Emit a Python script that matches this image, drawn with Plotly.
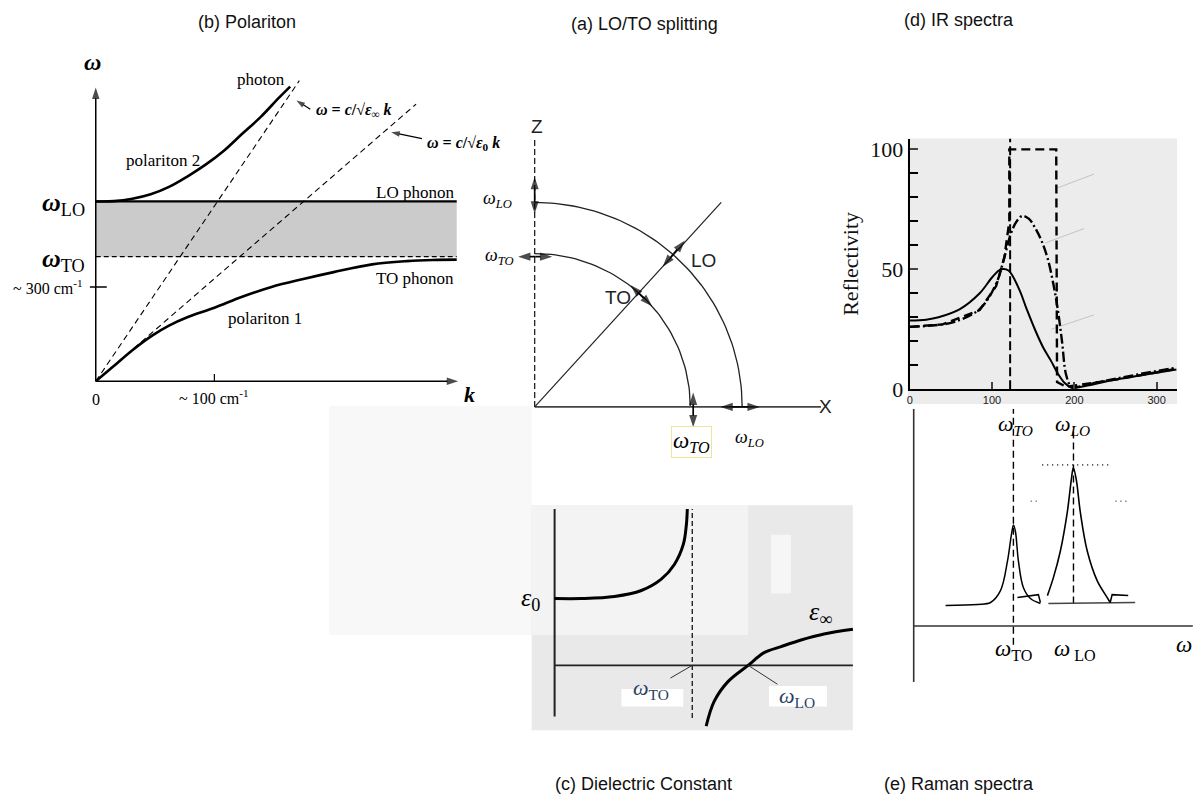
import numpy as np
import plotly.graph_objects as go

W, H = 1197, 812
SERIF = "Liberation Serif, DejaVu Serif, serif"
SANS = "Liberation Sans Narrow, Liberation Sans, Arial, sans-serif"
ARIAL = "Liberation Sans, Arial, sans-serif"

# ---------------- (b) Polariton data ----------------
K_POL2 = [0, 0.05, 0.1, 0.15, 0.2, 0.25, 0.3, 0.35, 0.4, 0.45, 0.5, 0.531]
W_POL2 = [0.606, 0.607, 0.615, 0.63, 0.655, 0.69, 0.73, 0.777, 0.834, 0.89, 0.955, 0.993]
K_POL1 = [0, 0.046, 0.1, 0.155, 0.2, 0.25, 0.324, 0.4, 0.48, 0.564, 0.65, 0.755, 0.85, 0.92, 0.986]
W_POL1 = [0, 0.048, 0.105, 0.155, 0.188, 0.216, 0.248, 0.285, 0.318, 0.344, 0.368, 0.394, 0.405, 0.409, 0.41]
K_LIGHT_INF = [0, 0.556]
W_LIGHT_INF = [0, 1.013]
K_LIGHT_0 = [0, 0.875]
W_LIGHT_0 = [0, 0.934]
W_LO_B = 0.606
W_TO_B = 0.42
K_MAX_B = 0.986
K_TICK_100 = 0.324
W_TICK_300 = 0.318

# ---------------- (a) LO/TO splitting data ----------------
R_LO = 1.0
R_TO = 0.75
DIAG_END = [0.899, 1.0]

# ---------------- (d) IR spectra data ----------------
IR_X_SOLID = [0, 20, 35, 61, 85, 101, 111, 120, 133, 142, 152, 162, 172, 180, 188, 196, 200, 225, 251, 285, 324]
IR_Y_SOLID = [28.6, 29, 30, 33.4, 40, 47, 50, 49.5, 41.6, 33.5, 25, 17.5, 11.6, 6.5, 2.7, 0.7, 0.5, 2.2, 4, 6, 8.2]
IR_X_DASHDOT = [0, 25, 53.5, 85, 105, 115, 123, 130, 137, 145, 152, 160, 168, 175, 180, 185, 190, 196, 200, 230, 260, 290, 324]
IR_Y_DASHDOT = [26, 26.5, 28, 33.4, 44, 55, 65, 70, 72.3, 71, 67.5, 62, 54, 43, 33, 20, 6, 1, 0.8, 3, 5, 7, 9]
IR_X_IDEAL = [0, 40, 85, 105, 115, 121, 121, 178, 179, 190, 250, 324]
IR_Y_IDEAL = [26, 27, 33, 43, 55, 70, 100, 100, 3, 1, 4, 8.5]
IR_W_TO = 122
IR_FAINT = [([180, 224], [84, 89.7]), ([165, 212], [61, 67]), ([172, 224], [25, 31])]

# ---------------- (e) Raman spectra data ----------------
RA_X_TO = [43.6, 82.4, 98.2, 110.3, 118.8, 123.6, 126.1, 128.5, 132.1, 138.2, 146.7, 158.8]
RA_Y_TO = [-0.014, -0.007, 0.007, 0.093, 0.307, 0.5, 0.571, 0.521, 0.307, 0.114, 0.036, 0.0]
RA_X_TO_STEP = [130.9, 156.4, 158.8]
RA_Y_TO_STEP = [0.043, 0.064, 0.007]
RA_X_LO = [167.3, 174.5, 183, 191.5, 196.4, 198.8, 202.4, 207.3, 215.8, 227.9, 240, 243.6]
RA_Y_LO = [0.057, 0.186, 0.379, 0.664, 0.9, 0.986, 0.9, 0.664, 0.379, 0.164, 0.043, 0.007]
RA_X_LO_STEP = [243.6, 246, 265.5]
RA_Y_LO_STEP = [0.007, 0.064, 0.057]
RA_W_TO = 126
RA_W_LO = 199
RA_AXIS_X = 4.85
RA_AXIS_Y = -0.164

# ---------------- (c) Dielectric constant data ----------------
EPS_X_LEFT = [0, 0.196, 0.435, 0.63, 0.775, 0.87, 0.935, 0.957, 0.964]
EPS_Y_LEFT = [1.0, 1.0, 1.03, 1.12, 1.29, 1.51, 1.81, 2.10, 2.34]
EPS_X_RIGHT = [1.101, 1.159, 1.261, 1.406, 1.522, 1.645, 1.79, 1.957, 2.167]
EPS_Y_RIGHT = [-0.91, -0.54, -0.24, 0.0, 0.19, 0.28, 0.38, 0.47, 0.54]
EPS_W_TO = 1.0
EPS_W_LO = 1.406


def xdom(p0, p1):
    return [p0 / W, p1 / W]


def ydom(top, bottom):
    return [1 - bottom / H, 1 - top / H]


fig = go.Figure()


def line(x, y, ax, width=1.5, color="black", dash="solid", shape="spline"):
    xa, ya = ax
    fig.add_trace(go.Scatter(x=x, y=y, mode="lines", xaxis=xa, yaxis=ya,
                             line=dict(color=color, width=width, dash=dash, shape=shape),
                             hoverinfo="skip", showlegend=False))


def arrow(x0, y0, x1, y1, ax, width=1.5, size=10, color="black"):
    """Line from (x0, y0) ending with an arrow head at (x1, y1)."""
    xa, ya = ax
    fig.add_trace(go.Scatter(x=[x0, x1], y=[y0, y1], mode="lines+markers", xaxis=xa, yaxis=ya,
                             line=dict(color=color, width=width),
                             marker=dict(symbol=["circle", "arrow"], size=[0, size], color=color,
                                         angleref="previous", line=dict(width=0)),
                             hoverinfo="skip", showlegend=False))


def darrow(x0, y0, x1, y1, ax, **kw):
    mx, my = (x0 + x1) / 2, (y0 + y1) / 2
    arrow(mx, my, x0, y0, ax, **kw)
    arrow(mx, my, x1, y1, ax, **kw)


# ---- panel (b)
B = ("x", "y")
fig.add_trace(go.Scatter(x=[0, K_MAX_B, K_MAX_B, 0, 0], y=[W_TO_B, W_TO_B, W_LO_B, W_LO_B, W_TO_B],
                         fill="toself", fillcolor="#cbcbcb", mode="lines", line=dict(width=0),
                         xaxis="x", yaxis="y", hoverinfo="skip", showlegend=False))
line([0, K_MAX_B], [W_LO_B, W_LO_B], B, width=2.2, shape="linear")
line([0, K_MAX_B], [W_TO_B, W_TO_B], B, width=1.2, dash="5px,3px", shape="linear")
line(K_LIGHT_INF, W_LIGHT_INF, B, width=1.1, dash="6px,4px", shape="linear")
line(K_LIGHT_0, W_LIGHT_0, B, width=1.1, dash="6px,4px", shape="linear")
line(K_POL2, W_POL2, B, width=2.6)
line(K_POL1, W_POL1, B, width=2.6)
line([K_TICK_100, K_TICK_100], [0, 0.025], B, width=1.2, shape="linear")
line([-0.016, 0.03], [W_TICK_300, W_TICK_300], B, width=1.5, shape="linear")
arrow(0, 0, 0, 0.99, B, width=1.5, size=12)
arrow(0, 0, 0.99, 0, B, width=1.5, size=12)
arrow(0.586, 0.917, 0.548, 0.946, B, width=1.2, size=9)
arrow(0.891, 0.818, 0.807, 0.839, B, width=1.2, size=9)

# ---- panel (a)
A = ("x2", "y2")
ang = np.linspace(0, np.pi / 2, 60)
line(list(R_LO * np.cos(ang)), list(R_LO * np.sin(ang)), A, width=1.3, color="#222", shape="linear")
line(list(R_TO * np.cos(ang)), list(R_TO * np.sin(ang)), A, width=1.3, color="#222", shape="linear")
line([0, 0], [0, 1.3125], A, width=1.3, color="#222", dash="6px,3px", shape="linear")
line([0, 1.38], [0, 0], A, width=1.6, color="#444", shape="linear")
line([0, DIAG_END[0]], [0, DIAG_END[1]], A, width=1.2, color="#222", shape="linear")
darrow(0, 1.125, 0, 0.945, A, width=1.7, size=13)
darrow(-0.08, 0.735, 0.085, 0.735, A, width=1.7, size=13)
darrow(0.724, 0.814, 0.617, 0.686, A, width=1.7, size=13)
darrow(0.463, 0.595, 0.566, 0.492, A, width=1.7, size=13)
darrow(0.764, 0.07, 0.764, -0.10, A, width=1.7, size=13)
darrow(0.895, 0, 1.085, 0, A, width=1.7, size=13)

# ---- panel (d)
D = ("x3", "y3")
for fx, fy in IR_FAINT:
    line(fx, fy, D, width=1, color="#c4c4c4", shape="linear")
line([IR_W_TO, IR_W_TO], [0, 104.5], D, width=2, dash="9px,4px", shape="linear")
line(IR_X_IDEAL, IR_Y_IDEAL, D, width=2.4, dash="9px,5px", shape="linear")
line(IR_X_DASHDOT, IR_Y_DASHDOT, D, width=2.4, dash="10px,3px,2px,3px")
line(IR_X_SOLID, IR_Y_SOLID, D, width=2)

# ---- panel (e)
E = ("x4", "y4")
line([RA_AXIS_X, RA_AXIS_X], [-0.571, 1.414], E, width=1.6, color="#333", shape="linear")
line([RA_AXIS_X, 344], [RA_AXIS_Y, RA_AXIS_Y], E, width=1.6, color="#333", shape="linear")
line([RA_W_TO, RA_W_TO], [-0.3, 1.414], E, width=1.4, dash="7px,4px", shape="linear")
line([RA_W_LO, RA_W_LO], [0, 1.286], E, width=1.4, dash="7px,4px", shape="linear")
line([168.5, 274], [0.0, 0.007], E, width=1.4, color="#444", shape="linear")
line([161, 246], [1.007, 1.007], E, width=1.6, dash="1px,4px", color="#333", shape="linear")
line([147, 156], [0.743, 0.743], E, width=1.6, dash="1px,4px", color="#555", shape="linear")
line([250, 264], [0.743, 0.743], E, width=1.6, dash="1px,4px", color="#555", shape="linear")
line(RA_X_TO, RA_Y_TO, E, width=1.5)
line(RA_X_TO_STEP, RA_Y_TO_STEP, E, width=1.5, shape="linear")
line(RA_X_LO, RA_Y_LO, E, width=1.6)
line(RA_X_LO_STEP, RA_Y_LO_STEP, E, width=1.5, shape="linear")

# ---- panel (c)
C = ("x5", "y5")
line([0, 0], [-0.765, 2.34], C, width=2, color="#222", shape="linear")
line([0, 2.167], [0, 0], C, width=1.6, color="#222", shape="linear")
line([EPS_W_TO, EPS_W_TO], [-0.79, 2.34], C, width=1.4, dash="5px,3px", color="#222", shape="linear")
line(EPS_X_LEFT, EPS_Y_LEFT, C, width=3)
line(EPS_X_RIGHT, EPS_Y_RIGHT, C, width=3)

# ---------------- annotations ----------------
ann = []


def txt(x, y, text, ax, size=16, family=SERIF, color="black", xanchor="center", yanchor="middle", **kw):
    xa, ya = ax
    d = dict(x=x, y=y, xref=xa, yref=ya, text=text, showarrow=False,
             font=dict(size=size, family=family, color=color), xanchor=xanchor, yanchor=yanchor)
    d.update(kw)
    ann.append(d)


# titles (paper)
for t, (px, py) in {"(b) Polariton": (245, 21), "(a) LO/TO splitting": (643, 23),
                    "(d) IR spectra": (958, 19), "(c) Dielectric Constant": (642, 797),
                    "(e) Raman spectra": (958, 797)}.items():
    ann.append(dict(x=px / W, y=1 - py / H, xref="paper", yref="paper", text=t, showarrow=False,
                    font=dict(size=18, family=SANS, color="#111"), xanchor="center", yanchor="middle"))

# panel (b)
txt(-0.008, 1.076, "<b><i>ω</i></b>", B, size=24)
txt(1.022, -0.046, "<b><i>k</i></b>", B, size=22)
txt(0.0, -0.06, "0", B, size=16)
txt(K_TICK_100, -0.053, "~ 100 cm<sup>-1</sup>", B, size=16)
txt(-0.03, W_TICK_300, "~ 300 cm<sup>-1</sup>", B, size=16, xanchor="right")
txt(-0.024, W_LO_B - 0.01, "<b><i>ω</i></b><sub>LO</sub>", B, size=26, xanchor="right")
txt(-0.024, W_TO_B - 0.01, "<b><i>ω</i></b><sub>TO</sub>", B, size=26, xanchor="right")
txt(0.45, 1.017, "photon", B, size=17)
txt(0.183, 0.745, "polariton 2", B, size=17)
txt(0.872, 0.636, "LO phonon", B, size=17)
txt(0.872, 0.348, "TO phonon", B, size=17)
txt(0.463, 0.212, "polariton 1", B, size=17)
txt(0.595, 0.911, "<b><i>ω</i> = <i>c</i>/√<i>ε</i><sub>∞</sub> <i>k</i></b>", B, size=16, xanchor="left")
txt(0.90, 0.801, "<b><i>ω</i> = <i>c</i>/√<i>ε</i><sub>0</sub> <i>k</i></b>", B, size=16, xanchor="left")

# panel (a)
txt(0.01, 1.37, "Z", A, size=19, family=ARIAL, color="#222")
txt(1.40, 0.0, "X", A, size=19, family=ARIAL, color="#222")
txt(-0.10, 1.014, "<i>ω<sub>LO</sub></i>", A, size=18, xanchor="right")
txt(-0.09, 0.735, "<i>ω<sub>TO</sub></i>", A, size=18, xanchor="right")
txt(0.745, 0.716, "LO", A, size=19, family=ARIAL, color="#222", xanchor="left")
txt(0.404, 0.534, "TO", A, size=19, family=ARIAL, color="#222")
txt(0.755, -0.17, "<i>ω<sub>TO</sub></i>", A, size=23, bordercolor="#efe49a", borderwidth=1, borderpad=1)
txt(1.034, -0.154, "<i>ω<sub>LO</sub></i>", A, size=18)

# panel (e)
txt(128.5, 1.293, "<i>ω<sub>TO</sub></i>", E, size=22)
txt(197.6, 1.293, "<i>ω<sub>LO</sub></i>", E, size=22)
txt(126, -0.336, "<i>ω</i><sub>TO</sub>", E, size=23)
txt(201, -0.336, "<i>ω</i><sub> LO</sub>", E, size=23)
txt(333, -0.30, "<i>ω</i>", E, size=23)

# panel (c)
txt(-0.09, 1.0, "<i>ε</i><sub>0</sub>", C, size=26, xanchor="right")
txt(1.935, 0.78, "<i>ε</i><sub>∞</sub>", C, size=26)
ann.append(dict(x=EPS_W_TO, y=0, ax=0.70, ay=-0.36, xref="x5", yref="y5", axref="x5", ayref="y5",
                text="<i>ω</i><sub>TO</sub>", showarrow=True, arrowhead=0, arrowwidth=1,
                arrowcolor="#333", font=dict(size=22, family=SERIF)))
ann.append(dict(x=EPS_W_LO, y=0, ax=1.76, ay=-0.47, xref="x5", yref="y5", axref="x5", ayref="y5",
                text="<i>ω</i><sub>LO</sub>", showarrow=True, arrowhead=0, arrowwidth=1,
                arrowcolor="#333", font=dict(size=22, family=SERIF)))


# ---------------- background shapes ----------------
def prect(x0, y0, x1, y1, color):
    return dict(type="rect", xref="paper", yref="paper", x0=x0 / W, x1=x1 / W,
                y0=1 - y1 / H, y1=1 - y0 / H, fillcolor=color, line=dict(width=0), layer="below")


shapes = [
    prect(327, 412, 530, 645, "#f8f8f8"),
    prect(907, 140, 1177, 410, "#ececec"),
    prect(530, 513, 852, 742, "#e9e9e9"),
    prect(530, 513, 747, 645, "#f3f3f3"),
    prect(770, 543, 790, 603, "#f6f6f6"),
    prect(620, 700, 682, 718, "#ffffff"),
    prect(768, 697, 826, 718, "#ffffff"),
]

hidden = dict(visible=False, showgrid=False, zeroline=False)
fig.update_layout(
    width=W, height=H, margin=dict(l=0, r=0, t=0, b=0),
    paper_bgcolor="white", plot_bgcolor="rgba(0,0,0,0)",
    showlegend=False, annotations=ann, shapes=shapes,
    xaxis=dict(domain=xdom(0, 480), range=[-0.2534, 1.0545], anchor="y", **hidden),
    yaxis=dict(domain=ydom(50, 420), range=[-0.1093, 1.1159], anchor="x", **hidden),
    xaxis2=dict(domain=xdom(485, 845), range=[-0.2308, 1.5], anchor="y2", **hidden),
    yaxis2=dict(domain=ydom(110, 470), range=[-0.274, 1.4567], anchor="x2", **hidden),
    xaxis3=dict(domain=xdom(909, 1177), range=[0, 324.8], anchor="y3", showgrid=False, zeroline=False,
                showline=True, linecolor="black", linewidth=2, ticks="inside", ticklen=7, tickwidth=1.5,
                tickvals=[0, 100, 200, 300], tickfont=dict(size=11, family=ARIAL, color="#222")),
    yaxis3=dict(domain=ydom(140, 395), range=[0, 104.5], anchor="x3", showgrid=False, zeroline=False,
                showline=True, linecolor="black", linewidth=2, ticks="inside", ticklen=8, tickwidth=1.5,
                tickvals=[0, 50, 100],
                minor=dict(dtick=10, tick0=0, ticks="inside", ticklen=8, tickwidth=1.5, tickcolor="black"),
                tickfont=dict(size=22, family=SERIF, color="#111"),
                title=dict(text="Reflectivity", font=dict(size=22, family=SERIF, color="#111"), standoff=6)),
    xaxis4=dict(domain=xdom(900, 1197), range=[-10.9, 349.1], anchor="y4", **hidden),
    yaxis4=dict(domain=ydom(415, 700), range=[-0.621, 1.414], anchor="x4", **hidden),
    xaxis5=dict(domain=xdom(500, 860), range=[-0.384, 2.2246], anchor="y5", **hidden),
    yaxis5=dict(domain=ydom(505, 745), range=[-1.015, 2.515], anchor="x5", **hidden),
)

fig.write_html("out.html", config={"displayModeBar": False},
               post_script="document.body.style.margin='0';")
